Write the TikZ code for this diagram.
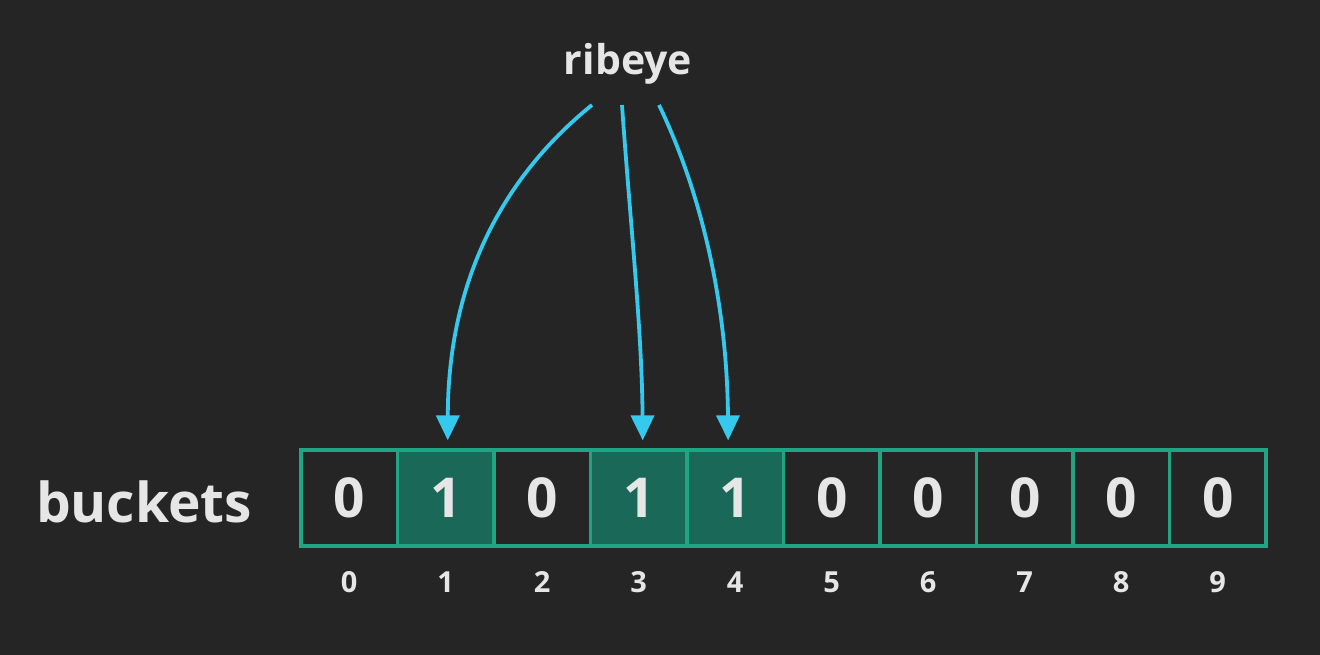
\documentclass[tikz,border=0pt]{standalone}
\usepackage{fontspec}
\setmainfont{Open Sans}
\usetikzlibrary{arrows.meta}
\definecolor{bg}{HTML}{252525}
\definecolor{teal}{HTML}{1FA584}
\definecolor{hit}{HTML}{1A6858}
\definecolor{txt}{HTML}{E6E6E6}
\definecolor{arr}{HTML}{35C9EE}
\tikzset{
  cellbox/.style={draw=teal, line width=3.2pt, minimum width=96.5pt, minimum height=96pt, inner sep=0pt, text=txt, font=\fontsize{55}{60}\selectfont\bfseries},
  cell0/.style={cellbox, fill=bg},
  cell1/.style={cellbox, fill=hit},
  idx/.style={text=txt, anchor=base, font=\fontsize{29}{32}\selectfont\bfseries},
  title/.style={text=txt, anchor=base, font=\fontsize{41}{48}\selectfont\bfseries},
  big/.style={text=txt, anchor=base, font=\fontsize{55}{64}\selectfont\bfseries},
  hasharrow/.style={draw=arr, line width=3.8pt, -{Triangle[length=25pt,width=23pt]}, shorten >=8pt}
}
\begin{document}
\begin{tikzpicture}[x=1pt,y=-1pt]
\fill[bg] (0,0) rectangle (1320,655);
\useasboundingbox (0,0) rectangle (1320,655);
\node[title] (rib) at (628,75) {ribeye};
\node[big] (lab) at (144,522) {buckets};
\foreach \v [count=\i from 0] in {0,1,0,1,1,0,0,0,0,0} {
  \node[cell\v] (c\i) at ({349.25+96.5*\i},498) {\v};
  \node[idx] (n\i) at ({349.25+96.5*\i},592) {\i};
}
\coordinate (s1) at (592,105);
\coordinate (s2) at (622,105);
\coordinate (s3) at (659,105);
\draw[hasharrow] (s1) .. controls (530,155) and (448,250) .. ([xshift=2pt]c1.north);
\draw[hasharrow] (s2) .. controls (630,220) and (642,330) .. ([xshift=4pt]c3.north);
\draw[hasharrow] (s3) .. controls (700,190) and (727,300) .. ([xshift=-7pt]c4.north);
\end{tikzpicture}
\end{document}
